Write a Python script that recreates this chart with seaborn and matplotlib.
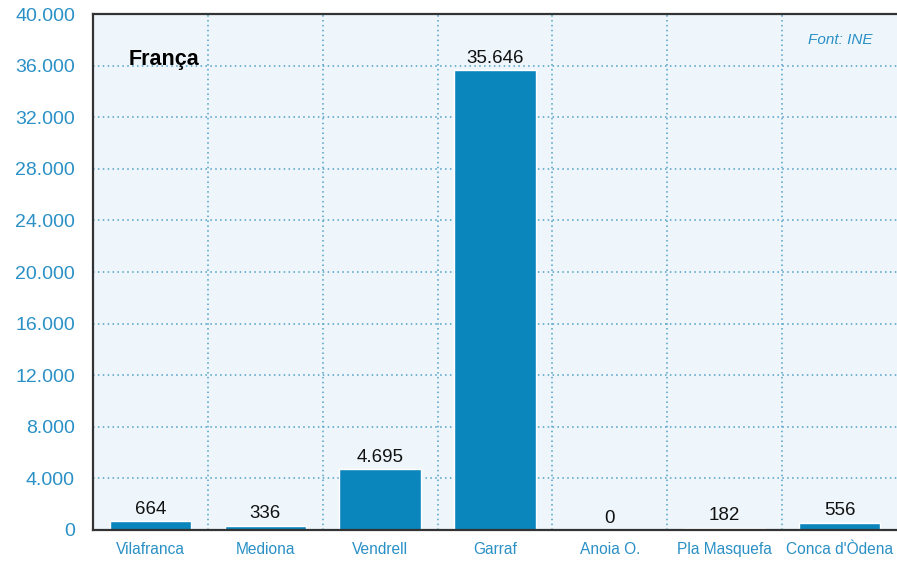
import matplotlib
matplotlib.use("Agg")
import matplotlib.pyplot as plt
from matplotlib.ticker import FuncFormatter, FixedLocator
import seaborn as sns
import pandas as pd

comarques = ["Vilafranca", "Mediona", "Vendrell", "Garraf", "Anoia O.", "Pla Masquefa", "Conca d'Òdena"]
visitants = [664, 336, 4695, 35646, 0, 182, 556]
y_ticks = [0, 4000, 8000, 12000, 16000, 20000, 24000, 28000, 32000, 36000, 40000]

BAR = "#0a86bd"
TICK = "#2a90c6"
GRID = "#4f9fc6"
BG = "#eef6fb"

def punts(v):
    return f"{int(v):,}".replace(",", ".")

sns.set_theme(style="white")
plt.rcParams["font.family"] = ["Liberation Sans", "DejaVu Sans"]

df = pd.DataFrame({"comarca": comarques, "valor": visitants})

fig = plt.figure(figsize=(8.97, 5.61), dpi=100)
fig.patch.set_facecolor("white")
ax = fig.add_axes([0.1037, 0.0553, 0.8963, 0.9197])
ax.set_facecolor(BG)

sns.barplot(data=df, x="comarca", y="valor", color=BAR, width=0.71,
            saturation=1, ax=ax, zorder=3)

ax.set_xlim(-0.5, len(comarques) - 0.5)
ax.set_ylim(0, 40000)
ax.set_yticks(y_ticks)
ax.yaxis.set_major_formatter(FuncFormatter(lambda v, p: punts(v)))
ax.xaxis.set_minor_locator(FixedLocator([i + 0.5 for i in range(len(comarques) - 1)]))

ax.grid(False)
ax.grid(axis="y", which="major", linestyle=(0, (1, 2.2)), color=GRID, linewidth=1.1, zorder=1)
ax.grid(axis="x", which="minor", linestyle=(0, (1, 2.2)), color=GRID, linewidth=1.1, zorder=1)
ax.set_axisbelow(True)

ax.set_xlabel("")
ax.set_ylabel("")
ax.tick_params(axis="y", which="both", length=0, pad=13, labelsize=14, labelcolor=TICK)
ax.tick_params(axis="x", which="both", length=0, pad=9, labelsize=11.2, labelcolor=TICK)

for side in ["left", "top", "bottom"]:
    ax.spines[side].set_visible(True)
    ax.spines[side].set_color("#333333")
    ax.spines[side].set_linewidth(1.6)
    ax.spines[side].set_zorder(5)
ax.spines["right"].set_visible(False)

for i, v in enumerate(visitants):
    ax.annotate(punts(v), (i, v), xytext=(0, 2.5), textcoords="offset points",
                ha="center", va="bottom", fontsize=13.5, color="#111111", zorder=6)

ax.text(0.044, 0.912, "França", transform=ax.transAxes, ha="left", va="center",
        fontsize=15.5, fontweight="bold", color="black")
ax.text(0.970, 0.949, "Font: INE", transform=ax.transAxes, ha="right", va="center",
        fontsize=11, style="italic", color=TICK)

fig.savefig("out.png", dpi=100, facecolor="white")
